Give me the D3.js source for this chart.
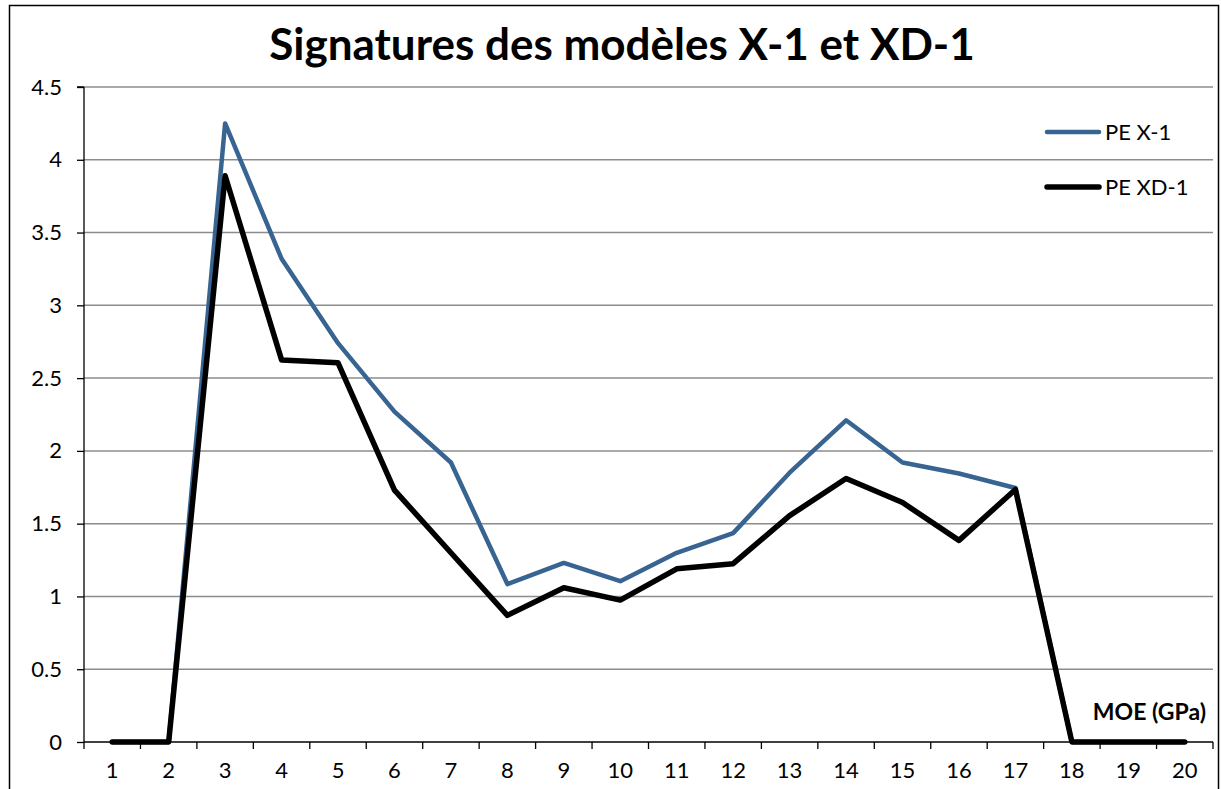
<!DOCTYPE html>
<html>
<head>
<meta charset="utf-8">
<script src="https://cdn.jsdelivr.net/npm/d3@7"></script>
<style>
  html, body { margin: 0; padding: 0; background: #fff; }
  svg { display: block; }
  text { font-family: Lato, "Open Sans", sans-serif; }
</style>
</head>
<body>
<svg id="chart" width="1221" height="789"></svg>
<script>
// MOE classes (GPa)
const categories = d3.range(1, 21).map(String);
// Signature of model X-1
const peX1 = [0, 0, 4.25, 3.32, 2.74, 2.27, 1.92, 1.085, 1.23, 1.105, 1.3, 1.435, 1.85, 2.21, 1.92, 1.845, 1.745, 0, 0, 0];
// Signature of model XD-1
const peXD1 = [0, 0, 3.89, 2.625, 2.605, 1.73, 1.3, 0.87, 1.06, 0.975, 1.19, 1.225, 1.555, 1.81, 1.645, 1.385, 1.735, 0, 0, 0];
const yTicks = [0, 0.5, 1, 1.5, 2, 2.5, 3, 3.5, 4, 4.5];
const seriesNames = ["PE X-1", "PE XD-1"];
const seriesColors = ["#386492", "#000000"];
const seriesWidths = [4.5, 5.5];

const svg = d3.select("#chart");
const plot = { left: 84, right: 1213, top: 87, bottom: 742 };

// outer chart frame
svg.append("rect")
  .attr("x", 9.5).attr("y", 5.5)
  .attr("width", 1209).attr("height", 800)
  .attr("fill", "none").attr("stroke", "#000").attr("stroke-width", 1.5);

const x = d3.scaleBand().domain(categories).range([plot.left, plot.right]).paddingInner(0).paddingOuter(0);
const y = d3.scaleLinear().domain([0, 4.5]).range([plot.bottom, plot.top]);

// horizontal gridlines
svg.append("g")
  .selectAll("line")
  .data(yTicks.filter(d => d > 0))
  .join("line")
  .attr("x1", plot.left).attr("x2", plot.right)
  .attr("y1", d => y(d)).attr("y2", d => y(d))
  .attr("stroke", "#8c8c8c").attr("stroke-width", 1.5);

// y axis
const yAxis = svg.append("g")
  .attr("transform", `translate(${plot.left},0)`)
  .call(d3.axisLeft(y).tickValues(yTicks).tickSize(7).tickPadding(15).tickFormat(d => String(d)));
yAxis.selectAll("line").attr("stroke", "#000").attr("stroke-width", 1.3);
yAxis.select(".domain").attr("stroke", "#000").attr("stroke-width", 1.3).attr("d", `M0,${plot.bottom}V${plot.top}M-7,${plot.top}H0`);
yAxis.selectAll("text").attr("font-size", 22).attr("fill", "#000").attr("font-family", "Lato, sans-serif");

// x axis: ticks at category boundaries, labels centred
const xAxisG = svg.append("g").attr("transform", `translate(0,${plot.bottom})`);
xAxisG.append("line")
  .attr("x1", plot.left).attr("x2", plot.right)
  .attr("stroke", "#000").attr("stroke-width", 1.3);
const boundaries = categories.map(c => x(c)).concat([x(categories[categories.length - 1]) + x.bandwidth()]);
xAxisG.selectAll("line.tick")
  .data(boundaries)
  .join("line")
  .attr("class", "tick")
  .attr("x1", d => d).attr("x2", d => d)
  .attr("y1", 0).attr("y2", 7)
  .attr("stroke", "#000").attr("stroke-width", 1.3);
xAxisG.selectAll("text")
  .data(categories)
  .join("text")
  .attr("x", d => x(d) + x.bandwidth() / 2)
  .attr("y", 36)
  .attr("text-anchor", "middle")
  .attr("font-size", 22)
  .text(d => d);

// series lines
const line = d3.line()
  .x((d, i) => x(categories[i]) + x.bandwidth() / 2)
  .y(d => y(d));
[peX1, peXD1].forEach((vals, k) => {
  svg.append("path")
    .datum(vals)
    .attr("d", line)
    .attr("fill", "none")
    .attr("stroke", seriesColors[k])
    .attr("stroke-width", seriesWidths[k])
    .attr("stroke-linejoin", "round")
    .attr("stroke-linecap", "round");
});

// legend
const legend = svg.append("g");
seriesNames.forEach((name, k) => {
  const ly = 132 + k * 55;
  legend.append("line")
    .attr("x1", 1047).attr("x2", 1099)
    .attr("y1", ly).attr("y2", ly)
    .attr("stroke", seriesColors[k]).attr("stroke-width", seriesWidths[k])
    .attr("stroke-linecap", "round");
  legend.append("text")
    .attr("x", 1105).attr("y", ly + 8)
    .attr("font-size", 22)
    .text(name);
});

// axis title
svg.append("text")
  .attr("x", 1206).attr("y", 720)
  .attr("text-anchor", "end")
  .attr("font-size", 23).attr("font-weight", "bold")
  .text("MOE (GPa)");

// chart title
svg.append("text")
  .attr("x", 622).attr("y", 60)
  .attr("text-anchor", "middle")
  .attr("font-size", 44).attr("font-weight", "bold")
  .text("Signatures des modèles X-1 et XD-1");
</script>
</body>
</html>
